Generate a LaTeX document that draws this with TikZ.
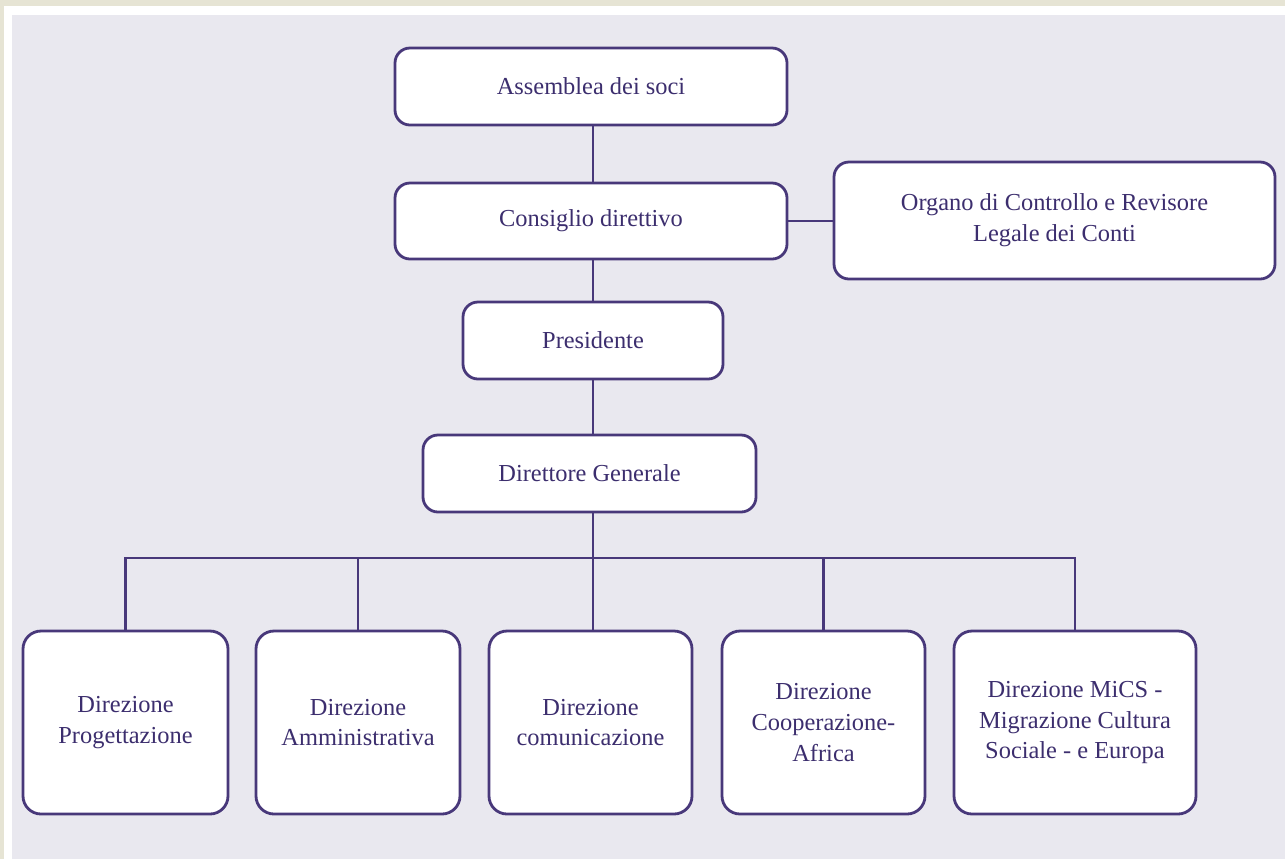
\documentclass[tikz,border=0pt]{standalone}
\usepackage{fontspec}
\setmainfont{Liberation Serif}
\begin{document}
\begin{tikzpicture}[x=0.5pt,y=-0.5pt]
\definecolor{frameBeige}{RGB}{230,228,212}
\definecolor{bgGrey}{RGB}{233,232,239}
\definecolor{ink}{RGB}{72,56,122}
\definecolor{txt}{RGB}{60,46,110}
\tikzset{
  box/.style={draw=ink, line width=1.4pt, fill=white, rounded corners=7.5pt,
    inner sep=0pt, align=center, text=txt,
    font=\fontsize{12.2}{15.4}\selectfont},
  bigbox/.style={box, rounded corners=9pt},
  link/.style={draw=ink, line width=1.4pt}
}
\useasboundingbox (0,0) rectangle (1285,859);
\fill[frameBeige] (0,0) rectangle (1285,859);
\fill[white] (4,6) rectangle (1285,859);
\fill[bgGrey] (12,15) rectangle (1285,859);

\node[box, minimum width=196pt, minimum height=38.5pt] (A) at (591,86.5) {Assemblea dei soci};
\node[box, minimum width=196pt, minimum height=38pt] (C) at (591,221) {Consiglio direttivo};
\node[box, minimum width=220.5pt, minimum height=58.5pt] (O) at (1054.5,220.5) {Organo di Controllo e Revisore\\Legale dei Conti};
\node[box, minimum width=130pt, minimum height=38.5pt] (P) at (593,340.5) {Presidente};
\node[box, minimum width=166.5pt, minimum height=38.5pt] (D) at (589.5,473.5) {Direttore Generale};

\node[bigbox, minimum width=102.5pt, minimum height=91.5pt] (B1) at (125.5,722.5) {Direzione\\Progettazione};
\node[bigbox, minimum width=102pt, minimum height=91.5pt] (B2) at (358,722.5) {Direzione\\Amministrativa};
\node[bigbox, minimum width=101.5pt, minimum height=91.5pt] (B3) at (590.5,722.5) {Direzione\\comunicazione};
\node[bigbox, minimum width=101.5pt, minimum height=91.5pt] (B4) at (823.5,722.5) {Direzione\\Cooperazione-\\Africa};
\node[bigbox, minimum width=121pt, minimum height=91.5pt] (B5) at (1075,722.5) {Direzione MiCS -\\Migrazione Cultura\\Sociale - e Europa};

\coordinate (bus) at (593,558);

\draw[link] (bus |- A.south) -- (bus |- C.north);
\draw[link] (C.east) -- (O.west |- C.east);
\draw[link] (bus |- C.south) -- (bus |- P.north);
\draw[link] (bus |- P.south) -- (bus |- D.north);
\draw[link] (bus |- D.south) -- (bus |- B3.north);
\draw[link] (B1.north) -- (B1.north |- bus) -- (B5.north |- bus) -- (B5.north);
\foreach \b in {B2,B4} {
  \draw[link] (\b.north |- bus) -- (\b.north);
}
\end{tikzpicture}
\end{document}
